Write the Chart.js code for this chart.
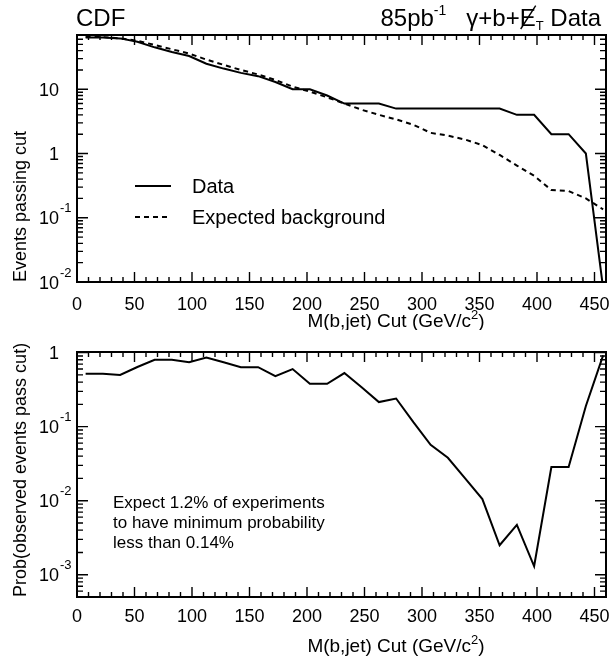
<!DOCTYPE html>
<html>
<head>
<meta charset="utf-8">
<script src="https://cdn.jsdelivr.net/npm/chart.js@4.4.1/dist/chart.umd.min.js"></script>
<style>
  html, body { margin: 0; padding: 0; background: #fff; }
  body { width: 611px; height: 663px; position: relative; overflow: hidden; }
  canvas { position: absolute; left: 0; }
  #top { top: 0; }
  #bot { top: 330px; }
</style>
</head>
<body>
<canvas id="top" width="611" height="330"></canvas>
<canvas id="bot" width="611" height="333"></canvas>
<script>
// M(b,jet) cut values (GeV/c^2)
const cutValues = [7.5, 22.5, 37.5, 52.5, 67.5, 82.5, 97.5, 112.5, 127.5, 142.5, 157.5, 172.5, 187.5, 202.5, 217.5, 232.5,
  247.5, 262.5, 277.5, 292.5, 307.5, 322.5, 337.5, 352.5, 367.5, 382.5, 397.5, 412.5, 427.5, 442.5, 457.5];
// events passing the cut (data); last point is 0, kept just under the axis
const dataPassing = [64, 64, 62, 55, 45, 38, 33, 25, 21, 18, 16, 13, 10, 10, 8, 6,
  6, 6, 5, 5, 5, 5, 5, 5, 5, 4, 4, 2, 2, 1, 0.008];
const expectedBkg = [66, 65, 62, 57, 49, 42, 36, 29, 24, 20, 17, 14, 11, 9.2, 7.5, 6.0,
  4.8, 4.0, 3.4, 2.8, 2.1, 1.9, 1.65, 1.35, 0.95, 0.65, 0.45, 0.27, 0.26, 0.2, 0.135];
// Prob(observed events pass cut)
const probObserved = [0.52, 0.52, 0.50, 0.64, 0.80, 0.80, 0.74, 0.86, 0.74, 0.635, 0.635, 0.48, 0.60, 0.38, 0.38, 0.53,
  0.34, 0.215, 0.24, 0.115, 0.057, 0.038, 0.02, 0.0105, 0.0025, 0.0047, 0.0013, 0.0285, 0.0285, 0.19, 0.92];

const xTicks = [0, 50, 100, 150, 200, 250, 300, 350, 400, 450];
const topDecades = [-2, -1, 0, 1];
const botDecades = [-3, -2, -1, 0];

const FONT = '"Liberation Sans", Arial, Helvetica, sans-serif';

// draw a list of runs {t, size, dy, slash} on one baseline
function drawRuns(ctx, runs, x, base, align) {
  let w = 0;
  for (const r of runs) {
    ctx.font = `${r.size}px ${FONT}`;
    r.w = ctx.measureText(r.t).width;
    w += r.w;
  }
  let cx = align === 'center' ? x - w / 2 : align === 'right' ? x - w : x;
  ctx.textAlign = 'left';
  ctx.textBaseline = 'alphabetic';
  for (const r of runs) {
    ctx.font = `${r.size}px ${FONT}`;
    ctx.fillText(r.t, cx, base + (r.dy || 0));
    if (r.slash) {
      ctx.beginPath();
      ctx.lineWidth = 1.4;
      ctx.moveTo(cx + 1, base + 3);
      ctx.lineTo(cx + r.w, base - r.size * 0.85);
      ctx.stroke();
    }
    cx += r.w;
  }
}

const xTitle = [{ t: 'M(b,jet) Cut (GeV/c', size: 19 }, { t: '2', size: 13, dy: -8 }, { t: ')', size: 19 }];

const axesPlugin = {
  id: 'axes',
  afterDatasetsDraw(chart, args, opts) {
    const { ctx, chartArea: a, scales: { x, y } } = chart;
    ctx.save();
    ctx.strokeStyle = '#000';
    ctx.fillStyle = '#000';
    ctx.lineWidth = 2;
    ctx.strokeRect(a.left, a.top, a.right - a.left, a.bottom - a.top);

    // x ticks, inward on bottom and top
    ctx.lineWidth = 1.4;
    ctx.beginPath();
    for (let v = 0; v <= x.max; v += 10) {
      const px = x.getPixelForValue(v);
      const len = v % 50 === 0 ? 10 : 5;
      ctx.moveTo(px, a.bottom); ctx.lineTo(px, a.bottom - len);
      ctx.moveTo(px, a.top); ctx.lineTo(px, a.top + len);
    }
    // log y ticks, inward on left and right
    const e0 = Math.floor(Math.log10(y.min));
    const e1 = Math.ceil(Math.log10(y.max));
    for (let e = e0; e <= e1; e++) {
      for (let m = 1; m <= 9; m++) {
        const v = m * Math.pow(10, e);
        if (v < y.min * 0.999 || v > y.max * 1.001) continue;
        const py = y.getPixelForValue(v);
        const len = m === 1 ? 11 : 6;
        ctx.moveTo(a.left, py); ctx.lineTo(a.left + len, py);
        ctx.moveTo(a.right, py); ctx.lineTo(a.right - len, py);
      }
    }
    ctx.stroke();

    // x tick labels
    ctx.font = `18px ${FONT}`;
    ctx.textAlign = 'center';
    ctx.textBaseline = 'alphabetic';
    for (const v of xTicks) {
      ctx.fillText(String(v), x.getPixelForValue(v), a.bottom + opts.xLabelGap + 6.5);
    }
    // y decade labels
    for (const e of opts.decades) {
      const py = y.getPixelForValue(Math.pow(10, e));
      ctx.font = `18px ${FONT}`;
      ctx.textAlign = 'right';
      ctx.fillText(e === 0 ? '1' : '10', 59, py + 6.5);
      if (e !== 0 && e !== 1) {
        ctx.font = `13px ${FONT}`;
        ctx.textAlign = 'left';
        ctx.fillText(String(e), 60, py - 10 + 4.7);
      }
    }

    // axis titles
    drawRuns(ctx, xTitle, 396, opts.xTitleY + 7, 'center');
    ctx.save();
    ctx.translate(26, a.bottom);
    ctx.rotate(-Math.PI / 2);
    drawRuns(ctx, [{ t: opts.yTitle, size: 18 }], 0, 0, 'left');
    ctx.restore();
    ctx.restore();
  },
};

const topTextPlugin = {
  id: 'topText',
  afterDraw(chart) {
    const { ctx } = chart;
    ctx.save();
    ctx.fillStyle = '#000';
    ctx.strokeStyle = '#000';
    drawRuns(ctx, [{ t: 'CDF', size: 24 }], 76, 26, 'left');
    drawRuns(ctx, [
      { t: '85pb', size: 24 }, { t: '-1', size: 14, dy: -11 }, { t: '   \u03b3+b+', size: 24 },
      { t: 'E', size: 24, slash: true }, { t: 'T', size: 13, dy: 4 }, { t: ' Data', size: 24 },
    ], 601, 26, 'right');

    // legend
    ctx.lineWidth = 2;
    ctx.beginPath(); ctx.moveTo(135, 186); ctx.lineTo(171, 186); ctx.stroke();
    ctx.setLineDash([5, 4]);
    ctx.beginPath(); ctx.moveTo(135, 217); ctx.lineTo(171, 217); ctx.stroke();
    ctx.setLineDash([]);
    drawRuns(ctx, [{ t: 'Data', size: 20 }], 192, 193, 'left');
    drawRuns(ctx, [{ t: 'Expected background', size: 20 }], 192, 224, 'left');
    ctx.restore();
  },
};

const botTextPlugin = {
  id: 'botText',
  afterDraw(chart) {
    const { ctx } = chart;
    ctx.save();
    ctx.fillStyle = '#000';
    const lines = ['Expect 1.2% of experiments', 'to have minimum probability', 'less than 0.14%'];
    lines.forEach((t, i) => drawRuns(ctx, [{ t, size: 17 }], 113, 172 + i * 20 + 6, 'left'));
    ctx.restore();
  },
};

function makeChart(id, datasets, yMin, yMax, padding, axesOpts, extra) {
  return new Chart(document.getElementById(id), {
    type: 'line',
    data: { datasets },
    options: {
      responsive: false,
      animation: false,
      devicePixelRatio: 1,
      layout: { padding },
      plugins: { legend: { display: false }, tooltip: { enabled: false }, axes: axesOpts },
      scales: {
        x: { type: 'linear', min: 0, max: 460, display: false },
        y: { type: 'logarithmic', min: yMin, max: yMax, display: false },
      },
      elements: { point: { radius: 0 }, line: { tension: 0 } },
    },
    plugins: [axesPlugin, extra],
  });
}

const line = (vals, dash) => ({
  data: cutValues.map((x, i) => ({ x, y: vals[i] })),
  borderColor: '#000',
  borderWidth: 2,
  borderDash: dash || [],
  fill: false,
});

makeChart('top', [line(dataPassing), line(expectedBkg, [5, 4])], 0.01, 70,
  { left: 77, right: 5, top: 35, bottom: 48 },
  { decades: topDecades, xLabelGap: 21, xTitleY: 320, yTitle: 'Events passing cut' },
  topTextPlugin);

makeChart('bot', [line(probObserved)], 5e-4, 1.02,
  { left: 77, right: 5, top: 22, bottom: 66 },
  { decades: botDecades, xLabelGap: 18, xTitleY: 315, yTitle: 'Prob(observed events pass cut)' },
  botTextPlugin);
</script>
</body>
</html>
